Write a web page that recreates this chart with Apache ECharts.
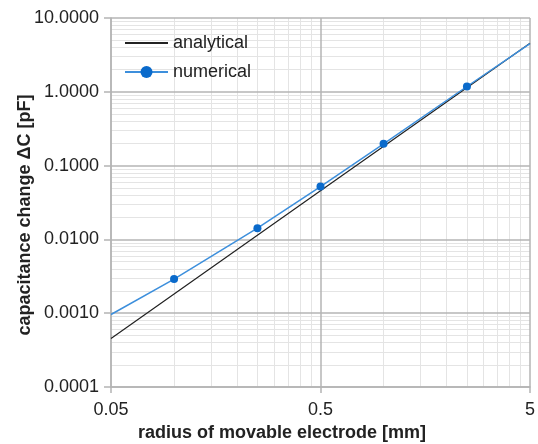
<!DOCTYPE html>
<html>
<head>
<meta charset="utf-8">
<script src="https://cdn.jsdelivr.net/npm/echarts@6/dist/echarts.min.js"></script>
<style>
  html, body { margin: 0; padding: 0; background: #fff; }
  #chart { width: 538px; height: 444px; }
</style>
</head>
<body>
<div id="chart"></div>
<script>
// Electrode radius [mm] vs. capacitance change [pF]
const analyticalR = [0.05, 0.5, 5];
const analyticalC = [0.000455, 0.0455, 4.55];

const numericalR = [0.05, 0.1, 0.25, 0.5, 1, 2.5, 5];
const numericalC = [0.00096, 0.0029, 0.0142, 0.052, 0.197, 1.18, 4.5];
// end points only anchor the curve; markers sit on the computed radii
const numericalMarked = [false, true, true, true, true, true, false];

const xMajorTicks = [0.05, 0.5, 5];
const yMajorTicks = [0.0001, 0.001, 0.01, 0.1, 1, 10];

// light grid lines at 2..9 times each decade start
function minorLines(decades) {
  const out = [];
  decades.slice(0, -1).forEach(d => {
    for (let n = 2; n <= 9; n++) out.push(+(d * n).toPrecision(6));
  });
  return out;
}
const xMinorTicks = minorLines(xMajorTicks);
const yMinorTicks = minorLines(yMajorTicks);

const FONT = '"Liberation Sans", Arial, sans-serif';
const MAJOR = '#b4b4b4';
const MINOR = '#e4e4e4';

const chart = echarts.init(document.getElementById('chart'), null, { renderer: 'canvas' });

const minorAxis = (values) => ({
  type: 'log', logBase: 10,
  show: true,
  z: 0,
  axisLine: { show: false },
  axisLabel: { show: false },
  axisTick: { show: false, customValues: values },
  splitLine: { show: true, lineStyle: { color: MINOR, width: 1 } }
});

chart.setOption({
  animation: false,
  backgroundColor: '#ffffff',
  textStyle: { fontFamily: FONT },
  grid: { left: 111, right: 7, top: 18, bottom: 57, containLabel: false },
  legend: {
    orient: 'vertical',
    left: 119, top: 29,
    itemWidth: 43, itemHeight: 15, itemGap: 11,
    textStyle: { fontFamily: FONT, fontSize: 18, color: '#222' },
    data: [
      { name: 'analytical', itemStyle: { opacity: 0 } },
      { name: 'numerical' }
    ]
  },
  xAxis: [
    {
      type: 'log', logBase: 10, min: 0.05, max: 5, z: 1,
      axisLine: { show: true, lineStyle: { color: MAJOR, width: 1.5 } },
      axisTick: { show: true, length: 6, customValues: xMajorTicks, lineStyle: { color: MAJOR, width: 1.5 } },
      axisLabel: {
        customValues: xMajorTicks, margin: 14,
        fontFamily: FONT, fontSize: 18, color: '#222',
        formatter: v => String(+v.toPrecision(6))
      },
      splitLine: { show: true, lineStyle: { color: MAJOR, width: 1.5 } },
      minorSplitLine: { show: false }
    },
    Object.assign(minorAxis(xMinorTicks), { min: 0.05, max: 5, position: 'bottom' })
  ],
  yAxis: [
    {
      type: 'log', logBase: 10, min: 0.0001, max: 10, z: 1,
      axisLine: { show: true, lineStyle: { color: MAJOR, width: 1.5 } },
      axisTick: { show: true, length: 7, customValues: yMajorTicks, lineStyle: { color: MAJOR, width: 1.5 } },
      axisLabel: {
        customValues: yMajorTicks, margin: 12,
        fontFamily: FONT, fontSize: 18, color: '#222',
        formatter: v => Number(v).toFixed(4)
      },
      splitLine: { show: true, lineStyle: { color: MAJOR, width: 1.5 } }
    },
    Object.assign(minorAxis(yMinorTicks), { min: 0.0001, max: 10, position: 'left' })
  ],
  graphic: [
    {
      type: 'text',
      x: 25, y: 215, rotation: Math.PI / 2,
      style: {
        text: 'capacitance change ΔC [pF]',
        font: 'bold 18px ' + FONT, fill: '#222',
        align: 'center', verticalAlign: 'middle'
      }
    },
    {
      type: 'text',
      x: 282, y: 433,
      style: {
        text: 'radius of movable electrode [mm]',
        font: 'bold 18px ' + FONT, fill: '#222',
        align: 'center', verticalAlign: 'middle'
      }
    }
  ],
  series: [
    {
      name: 'analytical', type: 'line',
      xAxisIndex: 0, yAxisIndex: 0,
      data: analyticalR.map((r, i) => [r, analyticalC[i]]),
      showSymbol: false, symbol: 'none',
      lineStyle: { color: '#222222', width: 1.2 },
      itemStyle: { color: '#222222' },
      z: 3
    },
    {
      name: 'numerical', type: 'line',
      xAxisIndex: 0, yAxisIndex: 0,
      data: numericalR.map((r, i) => ({
        value: [r, numericalC[i]],
        symbol: numericalMarked[i] ? 'circle' : 'none'
      })),
      symbol: 'circle', symbolSize: 8,
      lineStyle: { color: '#3d8fdc', width: 1.5 },
      itemStyle: { color: '#0a6acb' },
      z: 4
    }
  ]
});
</script>
</body>
</html>
